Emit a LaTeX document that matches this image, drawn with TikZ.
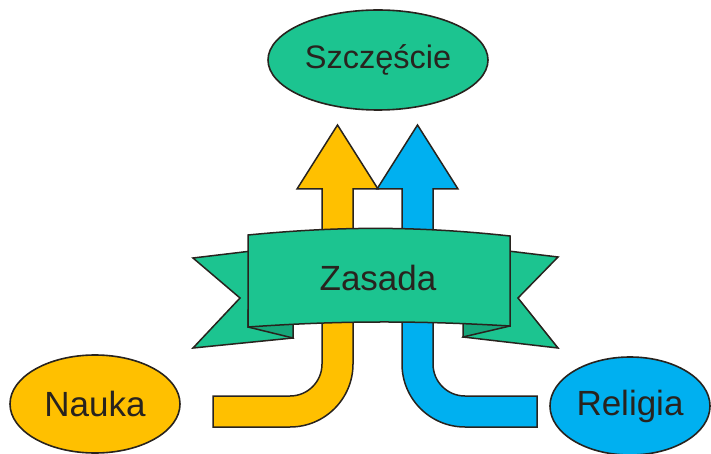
\documentclass[tikz,border=0pt]{standalone}
\usepackage{fontspec}
\setmainfont{Liberation Sans}
\usetikzlibrary{shapes.geometric}
\definecolor{zloty}{RGB}{255,192,0}
\definecolor{niebieski}{RGB}{0,176,240}
\definecolor{zielony}{RGB}{28,196,144}
\definecolor{ciemnyziel}{RGB}{22,166,122}
\definecolor{obrys}{RGB}{40,35,30}
\tikzstyle{owal} = [ellipse, draw=obrys, line width=1.6pt, inner sep=0pt, text=obrys]
\tikzstyle{ksztalt} = [draw=obrys, line width=1.5pt, line join=miter]

\begin{document}
\begin{tikzpicture}[x=1pt, y=-1pt]
		% uklad wspolrzednych w pikselach (y w dol)
		\useasboundingbox (0,0) rectangle (711,454);
		
		% parametry strzalek
		\def\gw{189} % poziom podstawy grotu
		\def\gs{125} % czubek grotu
		\def\dl{427} % dolna krawedz ogona
		\def\gl{396} % gorna krawedz ogona
		
		% ---- 1. Strzalka zolta (Nauka) ----
		\draw[ksztalt, fill=zloty]
		(213,\gl) -- (213,\dl) -- (290,\dl)
		.. controls (324.8,\dl) and (353,398.8) .. (353,364)
		-- (353,\gw) -- (378,\gw) -- (337.5,\gs) -- (297,\gw) -- (322,\gw)
		-- (322,364) .. controls (322,381.7) and (307.7,\gl) .. (290,\gl) -- cycle;
		
		% ---- 2. Strzalka niebieska (Religia) ----
		\draw[ksztalt, fill=niebieski]
		(537,\gl) -- (537,\dl) -- (465,\dl)
		.. controls (430.2,\dl) and (402,398.8) .. (402,364)
		-- (402,\gw) -- (377,\gw) -- (417.5,\gs) -- (458,\gw) -- (433,\gw)
		-- (433,364) .. controls (433,381.7) and (447.3,\gl) .. (465,\gl) -- cycle;
		
		% ---- 3. Wstega: konce ----
		\draw[ksztalt, fill=zielony]
		(193,258) -- (260,250) -- (260,300) -- (293,338) -- (193,348) -- (240,298) -- cycle;
		\draw[ksztalt, fill=zielony]
		(558,257) -- (500,250) -- (500,300) -- (463,337) -- (558,348) -- (518,298) -- cycle;
		% zagiecia
		\draw[ksztalt, fill=ciemnyziel] (248,327) -- (293,338) -- (293,310) -- (248,310) -- cycle;
		\draw[ksztalt, fill=ciemnyziel] (510,326) -- (463,337) -- (463,310) -- (510,310) -- cycle;
		
		% ---- 4. Wstega: czesc glowna ----
		\draw[ksztalt, fill=zielony]
		(248,235) .. controls (340,226) and (418,226) .. (510,236)
		-- (510,326) .. controls (418,320.5) and (340,320.5) .. (248,327) -- cycle;
		\node[text=obrys, font=\fontsize{35}{40}\selectfont] (zasada) at (378,278) {Zasada};
		
		% ---- 5. Owale ----
		\node[owal, fill=zielony, minimum width=220pt, minimum height=100pt,
		font=\fontsize{32.5}{37}\selectfont] (szczescie) at (378,60) {Szczęście};
		\node[owal, fill=zloty, minimum width=170pt, minimum height=98pt,
		font=\fontsize{35}{40}\selectfont] (nauka) at (95,404) {Nauka};
		\node[owal, fill=niebieski, minimum width=160pt, minimum height=98pt,
		font=\fontsize{35}{40}\selectfont] (religia) at (630,406) {Religia};
		
	\end{tikzpicture}
\end{document}
